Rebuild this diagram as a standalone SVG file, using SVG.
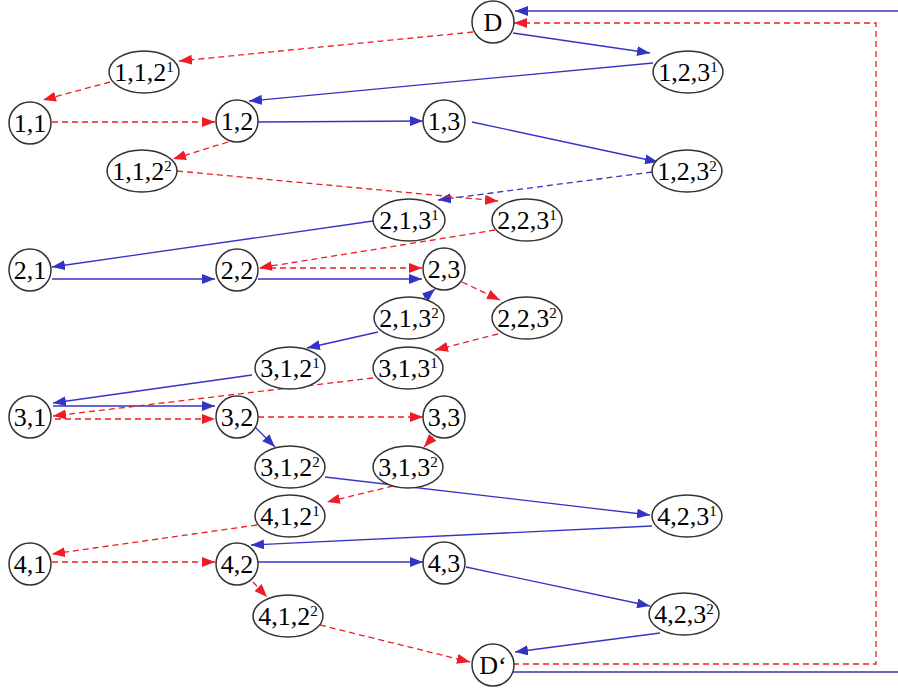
<svg xmlns="http://www.w3.org/2000/svg" width="898" height="688" viewBox="0 0 898 688">
  <defs>
    <marker id="ab" markerUnits="userSpaceOnUse" markerWidth="14" markerHeight="10" refX="13" refY="5" orient="auto">
      <path d="M0,0 L13,5 L0,10 z" fill="#3434c4"/>
    </marker>
    <marker id="ar" markerUnits="userSpaceOnUse" markerWidth="14" markerHeight="10" refX="13" refY="5" orient="auto">
      <path d="M0,0 L13,5 L0,10 z" fill="#ee1c24"/>
    </marker>
  </defs>
  <style>
    .n { fill: #ffffff; stroke: #333333; stroke-width: 1.5; }
    .t { font-family: "Liberation Serif", "Times New Roman", serif; font-size: 26px; fill: #000000; text-anchor: middle; }
    .s { font-size: 15px; }
    .b { stroke: #3434c4; stroke-width: 1.3; fill: none; marker-end: url(#ab); }
    .bd { stroke: #3434c4; stroke-width: 1.3; fill: none; stroke-dasharray: 6 4; marker-end: url(#ab); }
    .r { stroke: #ee1c24; stroke-width: 1.3; fill: none; stroke-dasharray: 6 4; marker-end: url(#ar); }
    .ret { stroke: #6a6ab4; stroke-width: 2; fill: none; }
  </style>
  <rect width="898" height="688" fill="#ffffff"/>

  <g id="connectors">
    <!-- loop D' back to D -->
    <line class="ret" x1="513" y1="672" x2="898" y2="672"/>
    <line class="b" x1="898" y1="11" x2="515" y2="11"/>
    <polyline class="r" points="513,664 876,664 876,23 514,23"/>

    <!-- solid blue -->
    <line class="b" x1="513" y1="33" x2="650" y2="53"/>
    <line class="b" x1="653" y1="63" x2="249" y2="101"/>
    <line class="b" x1="258" y1="122" x2="423" y2="121"/>
    <line class="b" x1="472" y1="122" x2="658" y2="162"/>
    <line class="bd" x1="652" y1="172" x2="438" y2="200"/>
    <line class="b" x1="373" y1="221" x2="52" y2="267"/>
    <line class="b" x1="52" y1="279" x2="215" y2="279"/>
    <line class="b" x1="258" y1="279" x2="422" y2="279"/>
    <line class="b" x1="423" y1="299" x2="435" y2="289"/>
    <line class="b" x1="378" y1="332" x2="307" y2="348"/>
    <line class="b" x1="252" y1="375" x2="53" y2="403"/>
    <line class="b" x1="53" y1="406" x2="215" y2="406"/>
    <line class="b" x1="255" y1="427" x2="275" y2="447"/>
    <line class="b" x1="325" y1="477" x2="650" y2="515"/>
    <line class="b" x1="652" y1="526" x2="251" y2="545"/>
    <line class="b" x1="258" y1="562" x2="423" y2="562"/>
    <line class="b" x1="466" y1="567" x2="650" y2="606"/>
    <line class="b" x1="660" y1="633" x2="515" y2="652"/>

    <!-- dashed red -->
    <line class="r" x1="473" y1="32" x2="179" y2="61"/>
    <line class="r" x1="110" y1="82" x2="43" y2="100"/>
    <line class="r" x1="52" y1="122" x2="215" y2="122"/>
    <line class="r" x1="228" y1="142" x2="173" y2="159"/>
    <line class="r" x1="177" y1="171" x2="498" y2="201"/>
    <line class="r" x1="495" y1="230" x2="259" y2="268"/>
    <line class="r" x1="260" y1="268" x2="422" y2="268"/>
    <line class="r" x1="462" y1="282" x2="500" y2="300"/>
    <line class="r" x1="498" y1="334" x2="435" y2="350"/>
    <line class="r" x1="373" y1="378" x2="53" y2="416"/>
    <line class="r" x1="55" y1="419" x2="215" y2="419"/>
    <line class="r" x1="258" y1="417" x2="423" y2="417"/>
    <line class="r" x1="433" y1="437" x2="424" y2="447"/>
    <line class="r" x1="393" y1="486" x2="327" y2="502"/>
    <line class="r" x1="257" y1="525" x2="52" y2="554"/>
    <line class="r" x1="52" y1="562" x2="215" y2="562"/>
    <line class="r" x1="253" y1="582" x2="267" y2="597"/>
    <line class="r" x1="320" y1="625" x2="470" y2="662"/>
  </g>

  <g id="D"><circle class="n" cx="493" cy="22" r="21"/><text class="t" x="493" y="31">D</text></g>
  <g id="n123a"><ellipse class="n" cx="688" cy="72" rx="35" ry="21"/><text class="t" x="688" y="81">1,2,3<tspan class="s" dy="-9">1</tspan></text></g>
  <g id="n112a"><ellipse class="n" cx="144" cy="72" rx="35" ry="21"/><text class="t" x="144" y="81">1,1,2<tspan class="s" dy="-9">1</tspan></text></g>
  <g id="n11"><circle class="n" cx="30" cy="123" r="21"/><text class="t" x="30" y="132">1,1</text></g>
  <g id="n12"><circle class="n" cx="237" cy="121" r="21"/><text class="t" x="237" y="130">1,2</text></g>
  <g id="n13"><circle class="n" cx="444" cy="121" r="21"/><text class="t" x="444" y="130">1,3</text></g>
  <g id="n112b"><ellipse class="n" cx="142" cy="171" rx="35" ry="21"/><text class="t" x="142" y="180">1,1,2<tspan class="s" dy="-9">2</tspan></text></g>
  <g id="n123b"><ellipse class="n" cx="687" cy="171" rx="35" ry="21"/><text class="t" x="687" y="180">1,2,3<tspan class="s" dy="-9">2</tspan></text></g>

  <g id="n213a"><ellipse class="n" cx="409" cy="220" rx="36" ry="21"/><text class="t" x="409" y="229">2,1,3<tspan class="s" dy="-9">1</tspan></text></g>
  <g id="n223a"><ellipse class="n" cx="527" cy="220" rx="35" ry="21"/><text class="t" x="527" y="229">2,2,3<tspan class="s" dy="-9">1</tspan></text></g>
  <g id="n21"><circle class="n" cx="30" cy="270" r="21"/><text class="t" x="30" y="279">2,1</text></g>
  <g id="n22"><circle class="n" cx="237" cy="270" r="21"/><text class="t" x="237" y="279">2,2</text></g>
  <g id="n23"><circle class="n" cx="444" cy="269" r="21"/><text class="t" x="444" y="278">2,3</text></g>
  <g id="n213b"><ellipse class="n" cx="409" cy="318" rx="35" ry="21"/><text class="t" x="409" y="327">2,1,3<tspan class="s" dy="-9">2</tspan></text></g>
  <g id="n223b"><ellipse class="n" cx="527" cy="318" rx="35" ry="21"/><text class="t" x="527" y="327">2,2,3<tspan class="s" dy="-9">2</tspan></text></g>

  <g id="n312a"><ellipse class="n" cx="290" cy="368" rx="35" ry="21"/><text class="t" x="290" y="377">3,1,2<tspan class="s" dy="-9">1</tspan></text></g>
  <g id="n313a"><ellipse class="n" cx="408" cy="368" rx="35" ry="21"/><text class="t" x="408" y="377">3,1,3<tspan class="s" dy="-9">1</tspan></text></g>
  <g id="n31"><circle class="n" cx="30" cy="417" r="21"/><text class="t" x="30" y="426">3,1</text></g>
  <g id="n32"><circle class="n" cx="237" cy="417" r="21"/><text class="t" x="237" y="426">3,2</text></g>
  <g id="n33"><circle class="n" cx="444" cy="417" r="21"/><text class="t" x="444" y="426">3,3</text></g>
  <g id="n312b"><ellipse class="n" cx="290" cy="467" rx="35" ry="21"/><text class="t" x="290" y="476">3,1,2<tspan class="s" dy="-9">2</tspan></text></g>
  <g id="n313b"><ellipse class="n" cx="408" cy="467" rx="35" ry="21"/><text class="t" x="408" y="476">3,1,3<tspan class="s" dy="-9">2</tspan></text></g>

  <g id="n412a"><ellipse class="n" cx="290" cy="516" rx="35" ry="21"/><text class="t" x="290" y="525">4,1,2<tspan class="s" dy="-9">1</tspan></text></g>
  <g id="n423a"><ellipse class="n" cx="687" cy="516" rx="35" ry="21"/><text class="t" x="687" y="525">4,2,3<tspan class="s" dy="-9">1</tspan></text></g>
  <g id="n41"><circle class="n" cx="30" cy="564" r="21"/><text class="t" x="30" y="573">4,1</text></g>
  <g id="n42"><circle class="n" cx="237" cy="564" r="21"/><text class="t" x="237" y="573">4,2</text></g>
  <g id="n43"><circle class="n" cx="444" cy="563" r="21"/><text class="t" x="444" y="572">4,3</text></g>
  <g id="n412b"><ellipse class="n" cx="288" cy="616" rx="35" ry="21"/><text class="t" x="288" y="625">4,1,2<tspan class="s" dy="-9">2</tspan></text></g>
  <g id="n423b"><ellipse class="n" cx="684" cy="614" rx="35" ry="21"/><text class="t" x="684" y="623">4,2,3<tspan class="s" dy="-9">2</tspan></text></g>
  <g id="Dp"><circle class="n" cx="493" cy="665" r="21"/><text class="t" x="493" y="674">D‘</text></g>
</svg>
